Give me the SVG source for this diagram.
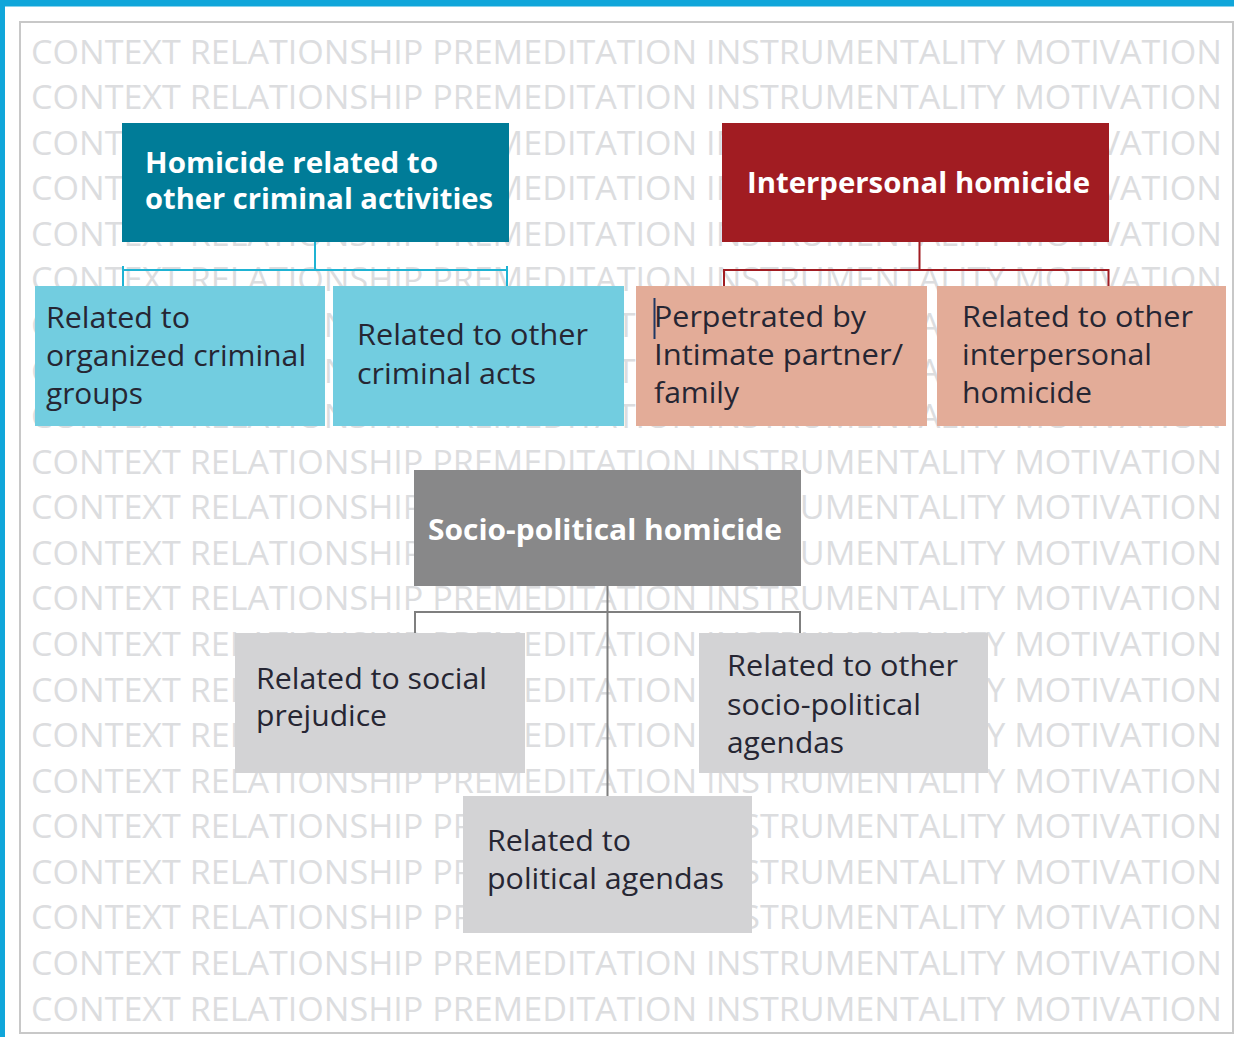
<svg xmlns="http://www.w3.org/2000/svg" width="1234" height="1037" viewBox="0 0 1234 1037">
<style>
.bg{font-family:"Open Sans","Liberation Sans",sans-serif;font-size:32px;fill:#dcdddf}
.hd{font-family:"Open Sans","Liberation Sans",sans-serif;font-size:29px;font-weight:bold;fill:#ffffff}
.tx{font-family:"Open Sans","Liberation Sans",sans-serif;font-size:29px;fill:#262633}
.teal{fill:#007c98}
.red{fill:#a11c22}
.blue{fill:#72cde0}
.salmon{fill:#e3ac98}
.grey{fill:#888889}
.lgrey{fill:#d3d3d5}
.cteal{stroke:#1fb3d3;stroke-width:2;fill:none}
.cred{stroke:#a11c22;stroke-width:2;fill:none}
.cgrey{stroke:#7f7f7f;stroke-width:2;fill:none}
</style>
<rect x="0" y="0" width="1234" height="1037" fill="#ffffff"/>
<g id="background">
<text class="bg" x="31" y="63.5" textLength="1191" lengthAdjust="spacingAndGlyphs">CONTEXT RELATIONSHIP PREMEDITATION INSTRUMENTALITY MOTIVATION</text>
<text class="bg" x="31" y="109.1" textLength="1191" lengthAdjust="spacingAndGlyphs">CONTEXT RELATIONSHIP PREMEDITATION INSTRUMENTALITY MOTIVATION</text>
<text class="bg" x="31" y="154.6" textLength="1191" lengthAdjust="spacingAndGlyphs">CONTEXT RELATIONSHIP PREMEDITATION INSTRUMENTALITY MOTIVATION</text>
<text class="bg" x="31" y="200.2" textLength="1191" lengthAdjust="spacingAndGlyphs">CONTEXT RELATIONSHIP PREMEDITATION INSTRUMENTALITY MOTIVATION</text>
<text class="bg" x="31" y="245.8" textLength="1191" lengthAdjust="spacingAndGlyphs">CONTEXT RELATIONSHIP PREMEDITATION INSTRUMENTALITY MOTIVATION</text>
<text class="bg" x="31" y="291.4" textLength="1191" lengthAdjust="spacingAndGlyphs">CONTEXT RELATIONSHIP PREMEDITATION INSTRUMENTALITY MOTIVATION</text>
<text class="bg" x="31" y="336.9" textLength="1191" lengthAdjust="spacingAndGlyphs">CONTEXT RELATIONSHIP PREMEDITATION INSTRUMENTALITY MOTIVATION</text>
<text class="bg" x="31" y="382.5" textLength="1191" lengthAdjust="spacingAndGlyphs">CONTEXT RELATIONSHIP PREMEDITATION INSTRUMENTALITY MOTIVATION</text>
<text class="bg" x="31" y="428.1" textLength="1191" lengthAdjust="spacingAndGlyphs">CONTEXT RELATIONSHIP PREMEDITATION INSTRUMENTALITY MOTIVATION</text>
<text class="bg" x="31" y="473.6" textLength="1191" lengthAdjust="spacingAndGlyphs">CONTEXT RELATIONSHIP PREMEDITATION INSTRUMENTALITY MOTIVATION</text>
<text class="bg" x="31" y="519.2" textLength="1191" lengthAdjust="spacingAndGlyphs">CONTEXT RELATIONSHIP PREMEDITATION INSTRUMENTALITY MOTIVATION</text>
<text class="bg" x="31" y="564.8" textLength="1191" lengthAdjust="spacingAndGlyphs">CONTEXT RELATIONSHIP PREMEDITATION INSTRUMENTALITY MOTIVATION</text>
<text class="bg" x="31" y="610.3" textLength="1191" lengthAdjust="spacingAndGlyphs">CONTEXT RELATIONSHIP PREMEDITATION INSTRUMENTALITY MOTIVATION</text>
<text class="bg" x="31" y="655.9" textLength="1191" lengthAdjust="spacingAndGlyphs">CONTEXT RELATIONSHIP PREMEDITATION INSTRUMENTALITY MOTIVATION</text>
<text class="bg" x="31" y="701.5" textLength="1191" lengthAdjust="spacingAndGlyphs">CONTEXT RELATIONSHIP PREMEDITATION INSTRUMENTALITY MOTIVATION</text>
<text class="bg" x="31" y="747.1" textLength="1191" lengthAdjust="spacingAndGlyphs">CONTEXT RELATIONSHIP PREMEDITATION INSTRUMENTALITY MOTIVATION</text>
<text class="bg" x="31" y="792.6" textLength="1191" lengthAdjust="spacingAndGlyphs">CONTEXT RELATIONSHIP PREMEDITATION INSTRUMENTALITY MOTIVATION</text>
<text class="bg" x="31" y="838.2" textLength="1191" lengthAdjust="spacingAndGlyphs">CONTEXT RELATIONSHIP PREMEDITATION INSTRUMENTALITY MOTIVATION</text>
<text class="bg" x="31" y="883.8" textLength="1191" lengthAdjust="spacingAndGlyphs">CONTEXT RELATIONSHIP PREMEDITATION INSTRUMENTALITY MOTIVATION</text>
<text class="bg" x="31" y="929.3" textLength="1191" lengthAdjust="spacingAndGlyphs">CONTEXT RELATIONSHIP PREMEDITATION INSTRUMENTALITY MOTIVATION</text>
<text class="bg" x="31" y="974.9" textLength="1191" lengthAdjust="spacingAndGlyphs">CONTEXT RELATIONSHIP PREMEDITATION INSTRUMENTALITY MOTIVATION</text>
<text class="bg" x="31" y="1020.5" textLength="1191" lengthAdjust="spacingAndGlyphs">CONTEXT RELATIONSHIP PREMEDITATION INSTRUMENTALITY MOTIVATION</text>
</g>
<g id="frame">
<rect x="20" y="22" width="1213" height="1011" fill="none" stroke="#c8c8c8" stroke-width="2"/>
<rect x="0" y="0" width="1234" height="6.5" fill="#10a6da"/>
<rect x="0" y="0" width="5" height="1037" fill="#10a6da"/>
</g>
<g id="connectors">
<path class="cteal" d="M315 242V270M123 287V270H507V287M123 266V270M507 266V270"/>
<path class="cred" d="M919.5 242V270M724 287V270H1108.5V287"/>
<path class="cgrey" d="M607.5 586V796M415 633V612H800V633"/>
</g>
<g id="node-criminal">
<rect class="teal" x="122" y="123" width="387" height="119"/>
<text class="hd" x="145" y="173" textLength="293" lengthAdjust="spacingAndGlyphs">Homicide related to</text>
<text class="hd" x="145" y="209" textLength="348" lengthAdjust="spacingAndGlyphs">other criminal activities</text>
</g>
<g id="node-interpersonal">
<rect class="red" x="722" y="123" width="387" height="119"/>
<text class="hd" x="747" y="193" textLength="343" lengthAdjust="spacingAndGlyphs">Interpersonal homicide</text>
</g>
<g id="node-organized">
<rect class="blue" x="35" y="286" width="290" height="140"/>
<text class="tx" x="46" y="328" textLength="144" lengthAdjust="spacingAndGlyphs">Related to</text>
<text class="tx" x="46" y="366" textLength="260" lengthAdjust="spacingAndGlyphs">organized criminal</text>
<text class="tx" x="46" y="404" textLength="97" lengthAdjust="spacingAndGlyphs">groups</text>
</g>
<g id="node-criminal-acts">
<rect class="blue" x="333" y="286" width="291" height="140"/>
<text class="tx" x="357" y="345" textLength="231" lengthAdjust="spacingAndGlyphs">Related to other</text>
<text class="tx" x="357" y="384" textLength="179" lengthAdjust="spacingAndGlyphs">criminal acts</text>
</g>
<g id="node-intimate">
<rect class="salmon" x="636" y="286" width="291" height="140"/>
<line x1="654.5" y1="298" x2="654.5" y2="339" stroke="#1f3864" stroke-width="2"/>
<text class="tx" x="654" y="327" textLength="212" lengthAdjust="spacingAndGlyphs">Perpetrated by</text>
<text class="tx" x="654" y="365" textLength="249" lengthAdjust="spacingAndGlyphs">Intimate partner/</text>
<text class="tx" x="654" y="403" textLength="85" lengthAdjust="spacingAndGlyphs">family</text>
</g>
<g id="node-other-interpersonal">
<rect class="salmon" x="937" y="286" width="289" height="140"/>
<text class="tx" x="962" y="327" textLength="231" lengthAdjust="spacingAndGlyphs">Related to other</text>
<text class="tx" x="962" y="365" textLength="190" lengthAdjust="spacingAndGlyphs">interpersonal</text>
<text class="tx" x="962" y="403" textLength="130" lengthAdjust="spacingAndGlyphs">homicide</text>
</g>
<g id="node-socio-political">
<rect class="grey" x="414" y="470" width="387" height="116"/>
<text class="hd" x="428" y="540" textLength="354" lengthAdjust="spacingAndGlyphs">Socio-political homicide</text>
</g>
<g id="node-prejudice">
<rect class="lgrey" x="235" y="633" width="290" height="140"/>
<text class="tx" x="256" y="689" textLength="231" lengthAdjust="spacingAndGlyphs">Related to social</text>
<text class="tx" x="256" y="726" textLength="131" lengthAdjust="spacingAndGlyphs">prejudice</text>
</g>
<g id="node-other-socio">
<rect class="lgrey" x="699" y="633" width="289" height="140"/>
<text class="tx" x="727" y="676" textLength="231" lengthAdjust="spacingAndGlyphs">Related to other</text>
<text class="tx" x="727" y="715" textLength="194" lengthAdjust="spacingAndGlyphs">socio-political</text>
<text class="tx" x="727" y="753" textLength="117" lengthAdjust="spacingAndGlyphs">agendas</text>
</g>
<g id="node-political">
<rect class="lgrey" x="463" y="796" width="289" height="137"/>
<text class="tx" x="487" y="851" textLength="144" lengthAdjust="spacingAndGlyphs">Related to</text>
<text class="tx" x="487" y="889" textLength="237" lengthAdjust="spacingAndGlyphs">political agendas</text>
</g>
</svg>
